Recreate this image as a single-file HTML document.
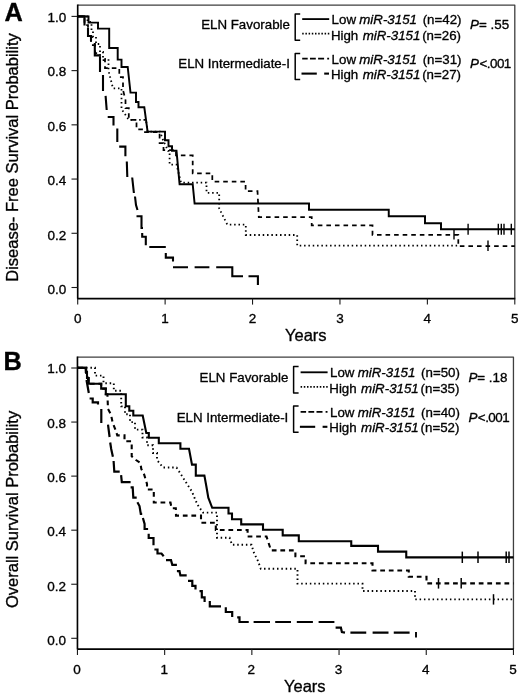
<!DOCTYPE html>
<html><head><meta charset="utf-8"><title>Figure</title>
<style>html,body{margin:0;padding:0;background:#fff;}body{width:520px;height:699px;overflow:hidden;font-family:"Liberation Sans",sans-serif;}</style>
</head><body>
<svg width="520" height="699" viewBox="0 0 520 699" style="display:block">
<rect x="0" y="0" width="520" height="699" fill="#fff"/>
<g opacity="0.999" font-family="'Liberation Sans', sans-serif" fill="#000" stroke="#000" stroke-width="0.34" stroke-linejoin="round">
<path d="M77.7,5.1 H514.8 V298.6" fill="none" stroke="#3f3f3f" stroke-width="1.3"/>
<path d="M77.7,4.5 V298.6 H515.3" fill="none" stroke="#000" stroke-width="1.65"/>
<line x1="71.5" y1="16.40" x2="77.7" y2="16.40" stroke="#1a1a1a" stroke-width="1.1"/>
<text x="66.20" y="21.80" font-size="13.5" text-anchor="end">1.0</text>
<line x1="71.5" y1="70.62" x2="77.7" y2="70.62" stroke="#1a1a1a" stroke-width="1.1"/>
<text x="66.20" y="76.24" font-size="13.5" text-anchor="end">0.8</text>
<line x1="71.5" y1="124.84" x2="77.7" y2="124.84" stroke="#1a1a1a" stroke-width="1.1"/>
<text x="66.20" y="130.68" font-size="13.5" text-anchor="end">0.6</text>
<line x1="71.5" y1="179.06" x2="77.7" y2="179.06" stroke="#1a1a1a" stroke-width="1.1"/>
<text x="66.20" y="185.12" font-size="13.5" text-anchor="end">0.4</text>
<line x1="71.5" y1="233.28" x2="77.7" y2="233.28" stroke="#1a1a1a" stroke-width="1.1"/>
<text x="66.20" y="239.56" font-size="13.5" text-anchor="end">0.2</text>
<line x1="71.5" y1="287.50" x2="77.7" y2="287.50" stroke="#1a1a1a" stroke-width="1.1"/>
<text x="66.20" y="294.00" font-size="13.5" text-anchor="end">0.0</text>
<line x1="77.70" y1="298.6" x2="77.70" y2="304.6" stroke="#1a1a1a" stroke-width="1.1"/>
<text x="77.70" y="322.9" font-size="13.5" text-anchor="middle">0</text>
<line x1="165.12" y1="298.6" x2="165.12" y2="304.6" stroke="#1a1a1a" stroke-width="1.1"/>
<text x="165.12" y="322.9" font-size="13.5" text-anchor="middle">1</text>
<line x1="252.54" y1="298.6" x2="252.54" y2="304.6" stroke="#1a1a1a" stroke-width="1.1"/>
<text x="252.54" y="322.9" font-size="13.5" text-anchor="middle">2</text>
<line x1="339.96" y1="298.6" x2="339.96" y2="304.6" stroke="#1a1a1a" stroke-width="1.1"/>
<text x="339.96" y="322.9" font-size="13.5" text-anchor="middle">3</text>
<line x1="427.38" y1="298.6" x2="427.38" y2="304.6" stroke="#1a1a1a" stroke-width="1.1"/>
<text x="427.38" y="322.9" font-size="13.5" text-anchor="middle">4</text>
<line x1="514.80" y1="298.6" x2="514.80" y2="304.6" stroke="#1a1a1a" stroke-width="1.1"/>
<text x="514.80" y="322.9" font-size="13.5" text-anchor="middle">5</text>
<text x="305.8" y="341.1" font-size="16.5" text-anchor="middle">Years</text>
<text transform="translate(17.6,157.5) rotate(-90)" font-size="16.5" text-anchor="middle">Disease- Free Survival Probability</text>
<text x="4.4" y="20.8" font-size="25.3" font-weight="bold">A</text>
<path d="M77.45,357.1 H513.45 V649.1" fill="none" stroke="#3f3f3f" stroke-width="1.3"/>
<path d="M77.45,356.5 V649.1 H513.95" fill="none" stroke="#000" stroke-width="1.65"/>
<line x1="71.25" y1="368.00" x2="77.45" y2="368.00" stroke="#1a1a1a" stroke-width="1.1"/>
<text x="65.95" y="373.40" font-size="13.5" text-anchor="end">1.0</text>
<line x1="71.25" y1="422.06" x2="77.45" y2="422.06" stroke="#1a1a1a" stroke-width="1.1"/>
<text x="65.95" y="427.72" font-size="13.5" text-anchor="end">0.8</text>
<line x1="71.25" y1="476.12" x2="77.45" y2="476.12" stroke="#1a1a1a" stroke-width="1.1"/>
<text x="65.95" y="482.04" font-size="13.5" text-anchor="end">0.6</text>
<line x1="71.25" y1="530.18" x2="77.45" y2="530.18" stroke="#1a1a1a" stroke-width="1.1"/>
<text x="65.95" y="536.36" font-size="13.5" text-anchor="end">0.4</text>
<line x1="71.25" y1="584.24" x2="77.45" y2="584.24" stroke="#1a1a1a" stroke-width="1.1"/>
<text x="65.95" y="590.68" font-size="13.5" text-anchor="end">0.2</text>
<line x1="71.25" y1="638.30" x2="77.45" y2="638.30" stroke="#1a1a1a" stroke-width="1.1"/>
<text x="65.95" y="645.00" font-size="13.5" text-anchor="end">0.0</text>
<line x1="77.45" y1="649.1" x2="77.45" y2="655.1" stroke="#1a1a1a" stroke-width="1.1"/>
<text x="76.95" y="673.8" font-size="13.5" text-anchor="middle">0</text>
<line x1="164.65" y1="649.1" x2="164.65" y2="655.1" stroke="#1a1a1a" stroke-width="1.1"/>
<text x="164.15" y="673.8" font-size="13.5" text-anchor="middle">1</text>
<line x1="251.85" y1="649.1" x2="251.85" y2="655.1" stroke="#1a1a1a" stroke-width="1.1"/>
<text x="251.35" y="673.8" font-size="13.5" text-anchor="middle">2</text>
<line x1="339.05" y1="649.1" x2="339.05" y2="655.1" stroke="#1a1a1a" stroke-width="1.1"/>
<text x="338.55" y="673.8" font-size="13.5" text-anchor="middle">3</text>
<line x1="426.25" y1="649.1" x2="426.25" y2="655.1" stroke="#1a1a1a" stroke-width="1.1"/>
<text x="425.75" y="673.8" font-size="13.5" text-anchor="middle">4</text>
<line x1="513.45" y1="649.1" x2="513.45" y2="655.1" stroke="#1a1a1a" stroke-width="1.1"/>
<text x="512.95" y="673.8" font-size="13.5" text-anchor="middle">5</text>
<text x="304.8" y="692.3" font-size="16.5" text-anchor="middle">Years</text>
<text transform="translate(17.6,509.4) rotate(-90)" font-size="16.5" text-anchor="middle">Overall Survival Probability</text>
<text x="3.5" y="370.1" font-size="25.3" font-weight="bold">B</text>
<path d="M77.7,16.4 L87.5,16.4 L87.5,22 L91.5,22 L91.5,31 L93,31 L93,37 L96,37 L96,44 L100,44 L100,52 L103,52 L103,59 L108.5,59 L108.5,70.8 L113,88.3 L121.5,88.3 L121.5,109 L128.8,119.8 L146,119.8 L147.5,131.6 L160,131.6 L163,140 L168,150.8 L169.6,150.8 L169.6,164.6 L176.5,164.6 L181,182.6 L206.5,182.6 L206.5,192.8 L219.2,192.8 L219.2,208.5 L227.3,224.6 L245.8,224.6 L245.8,235 L297.2,235 L297.2,245.6 L458,245.6" fill="none" stroke="#000" stroke-width="1.8" stroke-linejoin="miter" stroke-dasharray="1.5 2.83"/>
<path d="M77.7,16.4 L84.5,16.4 L84.5,25 L88,25 L88,36 L91,36 L91,45 L95,45 L95,53 L100,53 L100,60 L105,60 L105,68 L119.3,68 L119.3,77 L123,77 L123,90 L125.5,100 L125.5,108 L128.8,108 L128.8,119.8 L136.5,119.8 L136.5,129.4 L145,129.4 L145,132 L159.6,132 L159.6,143 L163.5,143 L163.5,150 L176,150 L176,155.4 L192.7,155.4 L192.7,173.4 L212.3,173.4 L212.3,181.6 L245.6,181.6 L245.6,191.2 L257.5,191.2 L258.8,217.2 L311.7,217.2 L311.7,225.4 L372.5,225.4 L372.5,234.8 L458.3,234.8 L458.3,246.2 L514.8,246.2" fill="none" stroke="#000" stroke-width="1.75" stroke-linejoin="miter" stroke-dasharray="4.6 3.97"/>
<path d="M77.7,16.4 H84.5 V25.5 M88,28 V36 H91 V41 M94.8,43 V55.4 H99.5 M100,57 V72 M103,75 V91 M105.6,95.8 L106.7,110 M107.7,117 H113.5 V125.6 M117.3,128.5 V142 M119.2,146.6 H125.4 V156.2 M126.8,161.5 L127.3,177 M132.2,177.5 L133.9,193 M135,196.5 L136,205 L137.5,210 M136.5,216.2 H141.5 V228 H143 M142.2,233 V236.8 H145.8 V245.2 M149.3,247 H165.8 M165.8,253 V257.6 H173 V261.6 M173,267.3 H188 M194.6,267.3 H209.4 M216.2,267.3 H232.3 V276.3 H243 M248.5,276.3 H257.9 V285" fill="none" stroke="#000" stroke-width="2.1" stroke-linejoin="miter" stroke-linecap="butt"/>
<path d="M77.7,16.4 L88.5,16.4 L88.5,22.6 L98,22.6 L98,28.6 L109.2,28.6 L109.2,48 L117.7,48 L117.7,59.6 L121.5,59.6 L121.5,67 L127.7,67 L130.5,92.6 L136,92.6 L136,102 L138.5,102 L138.5,107.3 L144.3,107.3 L147.6,131.6 L165,131.6 L165,140.2 L168.5,140.2 L168.5,146.2 L172,146.2 L172,150.8 L176.5,150.8 L179.6,184.2 L192.7,184.2 L194.6,203.5 L309,203.5 L309,209.8 L388.75,209.8 L388.75,216.3 L425,216.3 L425,223.2 L441,223.2 L441,229.3 L514.8,229.3" fill="none" stroke="#000" stroke-width="1.95" stroke-linejoin="miter"/>
<line x1="468.1" y1="223.8" x2="468.1" y2="234.8" stroke="#000" stroke-width="1.4"/>
<line x1="498.3" y1="223.8" x2="498.3" y2="234.8" stroke="#000" stroke-width="1.4"/>
<line x1="501.3" y1="223.8" x2="501.3" y2="234.8" stroke="#000" stroke-width="1.4"/>
<line x1="504" y1="223.8" x2="504" y2="234.8" stroke="#000" stroke-width="1.4"/>
<line x1="511.3" y1="223.8" x2="511.3" y2="234.8" stroke="#000" stroke-width="1.4"/>
<line x1="454" y1="230.0" x2="454" y2="239.60000000000002" stroke="#000" stroke-width="1.4"/>
<line x1="488" y1="240.5" x2="488" y2="250.89999999999998" stroke="#000" stroke-width="1.4"/>
<path d="M77.45,367.8 L95,367.8 L95,375.6 L103.5,375.6 L103.5,383.2 L113.8,383.2 L113.8,390.8 L121.2,390.8 L121.2,406.4 L125,406.4 L125,414.3 L130,414.3 L130,422.1 L135,422.1 L135,429.6 L142.5,429.6 L142.5,437.5 L147,437.5 L147,445.2 L153,445.2 L153,453 L157,453 L157,460 L163,467.5 L176.5,467.5 L182,476 L187,484 L192,491.6 L195,499 L197.7,505 L203,512.6 L217,512.6 L217,537.7 L229.6,537.7 L232,544.8 L251.5,544.8 L254,553 L258,561 L260.8,568.8 L297.5,568.8 L297.5,583.6 L362.5,583.6 L362.5,591 L415,591 L415,599.4 L513.45,599.4" fill="none" stroke="#000" stroke-width="1.9" stroke-linejoin="miter" stroke-dasharray="1.5 2.83"/>
<path d="M77.45,367.8 L85.8,367.8 L88.8,383.8 L101.2,383.8 L101.2,388.6 L105.8,388.6 L105.8,394.2 L107.4,394.2 L108,409 L111,414.6 L112.7,423 L115,428.5 L117.3,435.4 L124.5,435.4 L124.5,441.2 L131.7,441.2 L131.7,456.3 L136,460 L140.4,463 L141.3,469 L144.2,474.6 L147,484 L147,489.5 L153.8,489.5 L153.8,502.5 L170.5,502.5 L171.5,508.3 L175.8,508.3 L176,515.6 L201,515.6 L201,522.7 L215.8,522.7 L215.8,530 L247.6,530 L247.6,536.5 L266.5,536.5 L271,550.4 L295.4,550.4 L295.4,556.3 L305.6,556.3 L305.6,563.3 L372.5,563.3 L372.5,570.5 L408.75,570.5 L408.75,576.8 L426.5,576.8 L426.5,583.4 L513.45,583.4" fill="none" stroke="#000" stroke-width="2.1" stroke-linejoin="miter" stroke-dasharray="4.75 3.82"/>
<path d="M77.45,367.8 H85.8 L86.3,374 M86.5,380 L88.8,393 M89.6,398.5 H92.7 V402.3 H98 V404.6 M101.3,409 V423 M108,424.6 L109.6,437 M110.2,442.5 L111.2,449 L112.9,456.8 M113.6,461 L114.3,471.7 H119.7 M121.1,475.1 L121.8,482.2 H130.6 M130.6,487.4 H132.7 L133.3,497.6 H136.7 M137.4,502.3 L139.5,506 L140.8,513.9 H142.2 M142.9,518 L144.6,524 V529 H148.1 M148.7,533.7 V538 H153.5 V545.2 M154.4,549.5 H157.5 V553.5 H161.5 L163.7,556.2 M166,560.2 H171 L172.3,564.9 H176.9 M176.9,571.2 H179.5 L180.4,575.4 H186.7 M188,580.9 H192.3 V585.8 H195.5 V589.5 M199.5,591.2 H201.8 V597.3 H204.6 V602 M209.8,601 V606.4 H221 M225.8,607.2 V612 H232.2 V617 M237.2,617.4 H239.5 V622 H248.75 M253.6,622 H270 M275.2,622 H291 M296.8,622 H312.9 M318.6,622 H334.4 M335.6,627.7 H340.9 L341.9,632 L345,632.6 M350.4,632.6 H366.25 M372.6,632.6 H388.5 M393.75,632.6 H409.6" fill="none" stroke="#000" stroke-width="2.2" stroke-linejoin="miter" stroke-linecap="butt"/>
<path d="M77.45,367.8 L85.8,367.8 L85.8,372 L87,372 L87,378 L88.8,378 L88.8,383.8 L101.2,383.8 L101.2,388.6 L105.8,388.6 L105.8,394.2 L125.8,394.2 L125.8,406.2 L129.3,406.2 L129.3,410.8 L133.3,410.8 L133.3,415.5 L142.7,415.5 L146.3,433 L148.8,433 L148.8,437.7 L158.8,437.7 L158.8,443.2 L180.4,443.2 L180.4,448.8 L189,448.8 L192,464.6 L195.8,464.6 L195.8,475.6 L204.4,475.6 L206.3,486 L208.3,497.7 L212.2,507.8 L228.5,507.8 L228.5,513.5 L232,513.5 L232,519.2 L241.2,519.2 L241.2,524.4 L263,524.4 L263,529.8 L282.7,529.8 L282.7,535.4 L298.8,535.4 L298.8,541.2 L351.25,541.2 L351.25,545.9 L378,545.9 L378,551.6 L406.25,551.6 L406.25,557.4 L513.45,557.4" fill="none" stroke="#000" stroke-width="2.1" stroke-linejoin="miter"/>
<line x1="462.3" y1="551.5999999999999" x2="462.3" y2="563.0" stroke="#000" stroke-width="1.5"/>
<line x1="478" y1="551.5999999999999" x2="478" y2="563.0" stroke="#000" stroke-width="1.5"/>
<line x1="506.2" y1="551.5999999999999" x2="506.2" y2="563.0" stroke="#000" stroke-width="1.5"/>
<line x1="509" y1="551.5999999999999" x2="509" y2="563.0" stroke="#000" stroke-width="1.5"/>
<line x1="438.5" y1="578.0" x2="438.5" y2="588.5999999999999" stroke="#000" stroke-width="1.5"/>
<line x1="461.2" y1="578.0" x2="461.2" y2="588.5999999999999" stroke="#000" stroke-width="1.5"/>
<line x1="493.5" y1="594.1999999999999" x2="493.5" y2="604.6" stroke="#000" stroke-width="1.5"/>
<line x1="416" y1="632" x2="416" y2="637.5" stroke="#000" stroke-width="1.9"/>
<text x="289.90" y="29.10" font-size="13.3" text-anchor="end" >ELN Favorable</text>
<text x="289.90" y="68.30" font-size="13.3" text-anchor="end" >ELN Intermediate-I</text>
<path d="M300.20,14.00 H295.20 V40.30 H300.20" fill="none" stroke="#000" stroke-width="1.5" stroke-linejoin="round"/>
<path d="M300.20,53.40 H295.20 V79.60 H300.20" fill="none" stroke="#000" stroke-width="1.5" stroke-linejoin="round"/>
<line x1="302.20" y1="19.10" x2="329.20" y2="19.10" stroke="#000" stroke-width="1.85"/>
<line x1="302.20" y1="33.70" x2="329.60" y2="33.70" stroke="#000" stroke-width="1.8" stroke-dasharray="1.5 1.7"/>
<line x1="302.20" y1="58.60" x2="329.20" y2="58.60" stroke="#000" stroke-width="1.8" stroke-dasharray="5.5 2.3 5.8 2.3 6 3.1 1.9 10"/>
<line x1="301.50" y1="73.60" x2="316.80" y2="73.60" stroke="#000" stroke-width="2.1"/>
<line x1="324.20" y1="73.60" x2="329.00" y2="73.60" stroke="#000" stroke-width="2.1"/>
<text x="331.60" y="23.80" font-size="13.3" text-anchor="start" >Low</text>
<text x="359.30" y="23.80" font-size="13.3" text-anchor="start" font-style="italic">miR-3151</text>
<text x="422.70" y="23.80" font-size="13.3" text-anchor="start" >(n=42)</text>
<text x="330.90" y="39.70" font-size="13.3" text-anchor="start" >High</text>
<text x="362.70" y="39.70" font-size="13.3" text-anchor="start" font-style="italic">miR-3151</text>
<text x="422.20" y="39.70" font-size="13.3" text-anchor="start" >(n=26)</text>
<text x="331.60" y="63.60" font-size="13.3" text-anchor="start" >Low</text>
<text x="359.30" y="63.60" font-size="13.3" text-anchor="start" font-style="italic">miR-3151</text>
<text x="422.70" y="63.60" font-size="13.3" text-anchor="start" >(n=31)</text>
<text x="330.90" y="79.10" font-size="13.3" text-anchor="start" >High</text>
<text x="362.70" y="79.10" font-size="13.3" text-anchor="start" font-style="italic">miR-3151</text>
<text x="422.20" y="79.10" font-size="13.3" text-anchor="start" >(n=27)</text>
<text x="470.00" y="28.70" font-size="13.4"><tspan font-style="italic">P</tspan>= .55</text>
<text x="470.00" y="68.20" font-size="13.4"><tspan font-style="italic">P</tspan><tspan dx="0.5" letter-spacing="-0.5">&lt;.001</tspan></text>
<text x="288.30" y="382.40" font-size="13.3" text-anchor="end" >ELN Favorable</text>
<text x="288.30" y="421.60" font-size="13.3" text-anchor="end" >ELN Intermediate-I</text>
<path d="M298.60,366.60 H293.60 V392.90 H298.60" fill="none" stroke="#000" stroke-width="1.5" stroke-linejoin="round"/>
<path d="M298.60,406.00 H293.60 V432.20 H298.60" fill="none" stroke="#000" stroke-width="1.5" stroke-linejoin="round"/>
<line x1="300.60" y1="372.30" x2="327.60" y2="372.30" stroke="#000" stroke-width="1.85"/>
<line x1="300.60" y1="386.90" x2="328.00" y2="386.90" stroke="#000" stroke-width="1.8" stroke-dasharray="1.5 1.7"/>
<line x1="300.60" y1="411.80" x2="327.60" y2="411.80" stroke="#000" stroke-width="1.8" stroke-dasharray="5.5 2.3 5.8 2.3 6 3.1 1.9 10"/>
<line x1="299.90" y1="426.80" x2="315.20" y2="426.80" stroke="#000" stroke-width="2.1"/>
<line x1="322.60" y1="426.80" x2="327.40" y2="426.80" stroke="#000" stroke-width="2.1"/>
<text x="330.00" y="377.10" font-size="13.3" text-anchor="start" >Low</text>
<text x="357.70" y="377.10" font-size="13.3" text-anchor="start" font-style="italic">miR-3151</text>
<text x="421.10" y="377.10" font-size="13.3" text-anchor="start" >(n=50)</text>
<text x="329.30" y="393.00" font-size="13.3" text-anchor="start" >High</text>
<text x="361.10" y="393.00" font-size="13.3" text-anchor="start" font-style="italic">miR-3151</text>
<text x="420.60" y="393.00" font-size="13.3" text-anchor="start" >(n=35)</text>
<text x="330.00" y="416.90" font-size="13.3" text-anchor="start" >Low</text>
<text x="357.70" y="416.90" font-size="13.3" text-anchor="start" font-style="italic">miR-3151</text>
<text x="421.10" y="416.90" font-size="13.3" text-anchor="start" >(n=40)</text>
<text x="329.30" y="432.40" font-size="13.3" text-anchor="start" >High</text>
<text x="361.10" y="432.40" font-size="13.3" text-anchor="start" font-style="italic">miR-3151</text>
<text x="420.60" y="432.40" font-size="13.3" text-anchor="start" >(n=52)</text>
<text x="468.40" y="382.40" font-size="13.4"><tspan font-style="italic">P</tspan>= .18</text>
<text x="468.40" y="421.90" font-size="13.4"><tspan font-style="italic">P</tspan><tspan dx="0.5" letter-spacing="-0.5">&lt;.001</tspan></text>
</g></svg>
</body></html>
